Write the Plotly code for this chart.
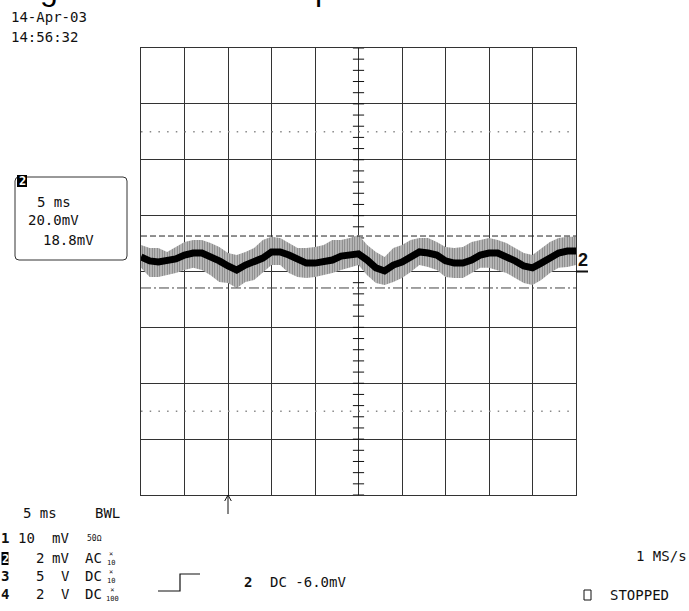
import plotly.graph_objects as go

# ---- data (channel 2, 2 mV/div, 5 ms/div) ----
time_ms = [0, 1, 2, 3, 4, 5, 6, 7, 8, 9, 10, 11, 12, 13, 14, 15, 16, 17, 18, 19, 20,
           21, 22, 23, 24, 25, 26, 27, 28, 29, 30, 31, 32, 33, 34, 35, 36, 37, 38, 39, 40,
           41, 42, 43, 44, 45, 46, 47, 48, 49, 50]
center_mV = [0.52, 0.38, 0.34, 0.38, 0.45, 0.59, 0.66, 0.66, 0.55, 0.38, 0.20, 0.05, 0.23,
             0.34, 0.48, 0.70, 0.70, 0.59, 0.41, 0.30, 0.30, 0.34, 0.41, 0.55, 0.59, 0.63,
             0.41, 0.13, 0.02, 0.23, 0.34, 0.55, 0.70, 0.66, 0.59, 0.38, 0.30, 0.30, 0.41,
             0.59, 0.66, 0.66, 0.55, 0.38, 0.20, 0.13, 0.30, 0.48, 0.66, 0.73, 0.73]
upper_mV = [0.95, 0.84, 0.84, 0.70, 0.88, 1.06, 1.13, 1.13, 1.02, 0.88, 0.66, 0.59, 0.70,
            0.84, 1.13, 1.24, 1.20, 1.02, 0.84, 0.84, 0.88, 0.95, 1.13, 1.13, 1.20, 1.31,
            0.95, 0.70, 0.52, 0.84, 0.95, 1.13, 1.20, 1.20, 1.06, 0.88, 0.84, 0.88, 1.06,
            1.13, 1.20, 1.13, 1.02, 0.84, 0.66, 0.59, 0.84, 1.06, 1.20, 1.24, 1.24]
lower_mV = [0.13, -0.20, -0.20, -0.13, -0.05, 0.05, 0.13, 0.05, -0.13, -0.38, -0.41, -0.59,
            -0.38, -0.30, -0.02, 0.23, 0.23, -0.05, -0.20, -0.23, -0.20, -0.13, -0.05, 0.05,
            0.13, 0.23, -0.13, -0.41, -0.48, -0.38, -0.23, -0.02, 0.23, 0.16, 0.05, -0.20,
            -0.23, -0.23, -0.05, 0.13, 0.13, 0.05, -0.05, -0.23, -0.41, -0.48, -0.30, -0.05,
            0.13, 0.16, 0.23]
cursor_dashed_mV = 1.27
cursor_dashdot_mV = -0.59
dotted_levels_mV = [5.0, -5.0]
trigger_time_ms = 10
x_range = [0, 50]
y_range = [-8, 8]

FW, FH = 689, 611
PL, PT, PW, PH = 141, 48, 435, 447          # plot area in window pixels
ML, MT = PL, PT
MR, MB = FW - ML - PW, FH - MT - PH


def px(x):  # window pixel -> paper
    return (x - PL) / PW


def py(y):
    return (PT + PH - y) / PH


MONO = "DejaVu Sans Mono"
INK = "#111"

fig = go.Figure()

# centre graticule ticks (minor divisions)
tick_y = [y_range[0] + 0.4 * k for k in range(41)]
fig.add_trace(go.Scatter(x=[25] * len(tick_y), y=tick_y, mode="markers",
                         marker=dict(symbol="line-ew", size=8, line=dict(width=1, color="#111")),
                         hoverinfo="skip", showlegend=False))

# noise envelope
fig.add_trace(go.Scatter(x=time_ms, y=lower_mV, mode="lines",
                         line=dict(width=0, color="#555"), hoverinfo="skip", showlegend=False))
fig.add_trace(go.Scatter(x=time_ms, y=upper_mV, mode="lines",
                         line=dict(width=0, color="#555"), fill="tonexty",
                         fillpattern=dict(shape="|", size=2.5, solidity=0.7,
                                          fgcolor="#000", bgcolor="white"),
                         hoverinfo="skip", showlegend=False))
# dense centre band
fig.add_trace(go.Scatter(x=time_ms, y=center_mV, mode="lines",
                         line=dict(width=7, color="black"), hoverinfo="skip", showlegend=False))

# cursor end triangles
fig.add_trace(go.Scatter(x=[-0.46, 50.52], y=[cursor_dashdot_mV, cursor_dashdot_mV], mode="markers",
                         marker=dict(symbol=["triangle-right-open", "triangle-left-open"], size=9,
                                     color="#333", line=dict(width=1, color="#333")),
                         cliponaxis=False, hoverinfo="skip", showlegend=False))

shapes = []
for lv in dotted_levels_mV:
    shapes.append(dict(type="line", xref="x", yref="y", x0=x_range[0], x1=x_range[1], y0=lv, y1=lv,
                       line=dict(color="#888", width=1.5, dash="1.5px,7.2px")))
shapes.append(dict(type="line", xref="x", yref="y", x0=x_range[0], x1=x_range[1],
                   y0=cursor_dashed_mV, y1=cursor_dashed_mV,
                   line=dict(color="#222", width=1, dash="6px,3px")))
shapes.append(dict(type="line", xref="x", yref="y", x0=x_range[0], x1=x_range[1],
                   y0=cursor_dashdot_mV, y1=cursor_dashdot_mV,
                   line=dict(color="#444", width=1, dash="10px,3px,2px,3px")))

# trigger arrow under the grid
tx = (trigger_time_ms - x_range[0]) / (x_range[1] - x_range[0])
shapes.append(dict(type="path", xref="paper", yref="paper",
                   path=f"M {tx},{py(514)} L {tx},{py(495)} M {tx - 3.3 / PW},{py(501)} "
                        f"L {tx},{py(495)} L {tx + 3.3 / PW},{py(501)}",
                   line=dict(color="#111", width=1)))
# trigger step symbol
shapes.append(dict(type="path", xref="paper", yref="paper",
                   path=f"M {px(158)},{py(591)} L {px(180)},{py(591)} L {px(180)},{py(574)} L {px(200)},{py(574)}",
                   line=dict(color="#111", width=1.2)))
# channel-2 ground marker underline
shapes.append(dict(type="line", xref="paper", yref="paper", x0=px(576), x1=px(588),
                   y0=py(271.5), y1=py(271.5), line=dict(color="#111", width=2)))
# cursor readout box (rounded)
bx0, bx1, by0, by1, r = 15, 127, 177, 260, 4
shapes.append(dict(type="path", xref="paper", yref="paper",
                   path=(f"M {px(bx0 + r)},{py(by0)} L {px(bx1 - r)},{py(by0)} "
                         f"Q {px(bx1)},{py(by0)} {px(bx1)},{py(by0 + r)} L {px(bx1)},{py(by1 - r)} "
                         f"Q {px(bx1)},{py(by1)} {px(bx1 - r)},{py(by1)} L {px(bx0 + r)},{py(by1)} "
                         f"Q {px(bx0)},{py(by1)} {px(bx0)},{py(by1 - r)} L {px(bx0)},{py(by0 + r)} "
                         f"Q {px(bx0)},{py(by0)} {px(bx0 + r)},{py(by0)} Z"),
                   line=dict(color="#333", width=1)))
# inverse channel labels
shapes.append(dict(type="rect", xref="paper", yref="paper", x0=px(17), x1=px(27), y0=py(187), y1=py(175),
                   fillcolor="black", line=dict(width=0)))
shapes.append(dict(type="rect", xref="paper", yref="paper", x0=px(1.5), x1=px(8.5), y0=py(565), y1=py(552),
                   fillcolor="black", line=dict(width=0)))
# STOPPED square
shapes.append(dict(type="rect", xref="paper", yref="paper", x0=px(584), x1=px(591), y0=py(600), y1=py(590),
                   line=dict(color="#111", width=1)))

fig.update_layout(shapes=shapes)


def txt(s, x, y, size=14, bold=False, color=INK, xanchor="left", family=MONO):
    fig.add_annotation(text=f"<b>{s}</b>" if bold else s, x=px(x), y=py(y), xref="paper", yref="paper",
                       xanchor=xanchor, yanchor="middle", showarrow=False, borderpad=0,
                       font=dict(family=family, size=size, color=color))


# fragments of the cropped heading above the picture
txt("g", 39, -11, size=32, family="Liberation Sans", color="black")
txt("p", 314, -11, size=32, family="Liberation Sans", color="black")

txt("14-Apr-03", 10, 17)
txt("14:56:32", 10, 36.5)

txt("2", 22, 181, size=12, bold=True, color="white", xanchor="center")
txt("5 ms", 36, 202)
txt("20.0mV", 27, 220)
txt("18.8mV", 42, 240)

txt("2", 577, 259.5, size=18, bold=True, family="Liberation Sans")

txt("5 ms", 22, 513)
txt("BWL", 94, 513)

txt("1", 4.5, 538, size=14, bold=True, xanchor="center")
txt("2", 5, 558.5, size=12, bold=True, color="white", xanchor="center")
txt("3", 4.5, 576, size=14, bold=True, xanchor="center")
txt("4", 4.5, 594, size=14, bold=True, xanchor="center")

txt("10", 17, 538)
txt("mV", 51, 538)
txt("50Ω", 86, 538, size=8)
txt("2", 34.5, 558)
txt("mV", 51, 558)
txt("AC", 84, 558)
txt("5", 34.5, 576)
txt("V", 59.5, 576)
txt("DC", 84, 576)
txt("2", 34.5, 594)
txt("V", 59.5, 594)
txt("DC", 84, 594)
for yy, lab in [(558, "×<br>10"), (576, "×<br>10"), (594, "×<br>100")]:
    txt(lab, 110.5 if lab.endswith("10") else 112, yy, size=7, xanchor="center")

txt("2", 243, 582, size=14, bold=True)
txt("DC -6.0mV", 269, 582)
txt("1 MS/s", 635, 556)
txt("STOPPED", 609, 595)

axis_common = dict(showgrid=True, gridcolor="#333", gridwidth=1, zeroline=False, showticklabels=False,
                   ticks="", showline=True, linecolor="#333", linewidth=1, mirror=True, fixedrange=True)
fig.update_xaxes(range=x_range, dtick=5, tick0=0, **axis_common)
fig.update_yaxes(range=y_range, dtick=2, tick0=0, **axis_common)

fig.update_layout(width=FW, height=FH, autosize=False,
                  margin=dict(l=ML, r=MR, t=MT, b=MB, pad=0),
                  paper_bgcolor="white", plot_bgcolor="white", showlegend=False)

# the page's default 8px body margin would shift the figure; remove it
fig.write_html("out.html", config={"displayModeBar": False},
               post_script="document.body.style.margin='0px';document.body.style.overflow='hidden';")
